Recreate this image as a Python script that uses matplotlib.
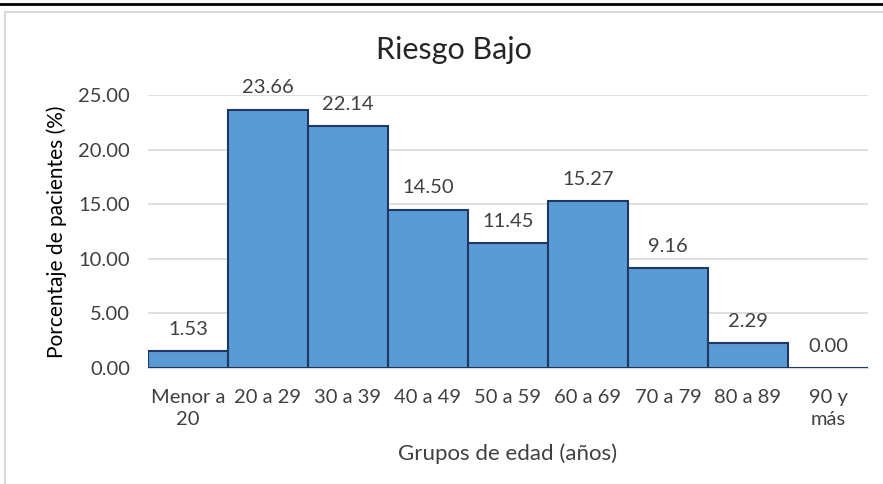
import matplotlib
matplotlib.use("Agg")
import matplotlib.pyplot as plt
from matplotlib.lines import Line2D
from matplotlib.patches import Rectangle

categories = ["Menor a\n20", "20 a 29", "30 a 39", "40 a 49", "50 a 59",
              "60 a 69", "70 a 79", "80 a 89", "90 y\nmás"]
values = [1.53, 23.66, 22.14, 14.50, 11.45, 15.27, 9.16, 2.29, 0.00]
yticks = [0, 5, 10, 15, 20, 25]

plt.rcParams['font.family'] = ['Lato', 'DejaVu Sans']

fig = plt.figure(figsize=(8.83, 4.84), dpi=100)
ax = fig.add_axes([148/883, 1-368/484, 720/883, (368-95)/484])

x = list(range(len(categories)))
ax.bar(x, values, width=1.0, color="#5B9BD5", edgecolor="#1F3864", linewidth=1.5, zorder=3)
for xi, v in zip(x, values):
    ax.text(xi, v + 2.0, f"{v:.2f}", ha="center", va="center", fontsize=14.5, color="#404040", clip_on=False)

ax.set_xlim(-0.5, len(categories) - 0.5)
ax.set_ylim(0, 25)
ax.set_yticks(yticks)
ax.set_yticklabels([f"{t:.2f}" for t in yticks])
ax.set_xticks(x)
ax.set_xticklabels(categories, linespacing=1.35)
ax.tick_params(axis="both", length=0, labelsize=14.5, labelcolor="#404040")
ax.tick_params(axis="y", pad=13)
ax.tick_params(axis="x", pad=15)
ax.grid(axis="y", color="#D9D9D9", linewidth=1.2, zorder=0)
for s in ["top", "right", "left"]:
    ax.spines[s].set_visible(False)
ax.spines["bottom"].set_color("#D9D9D9")

ax.set_ylabel("Porcentaje de pacientes (%)", fontsize=15, color="#000000", labelpad=8)
ax.set_xlabel("Grupos de edad (años)", fontsize=16, color="#404040", labelpad=11)
fig.text(454/883, 1 - 50/484, "Riesgo Bajo", ha="center", va="center", fontsize=22, color="#262626")

# chart frame lines
fig.add_artist(Line2D([0, 1], [1 - 4/484, 1 - 4/484], color="black", linewidth=2, transform=fig.transFigure))
fig.add_artist(Rectangle((5/883, -0.1), 1.0, 1 - 12/484 + 0.1, fill=False, edgecolor="#D9D9D9", linewidth=1.5, transform=fig.transFigure))

fig.savefig("out.png", dpi=100)
